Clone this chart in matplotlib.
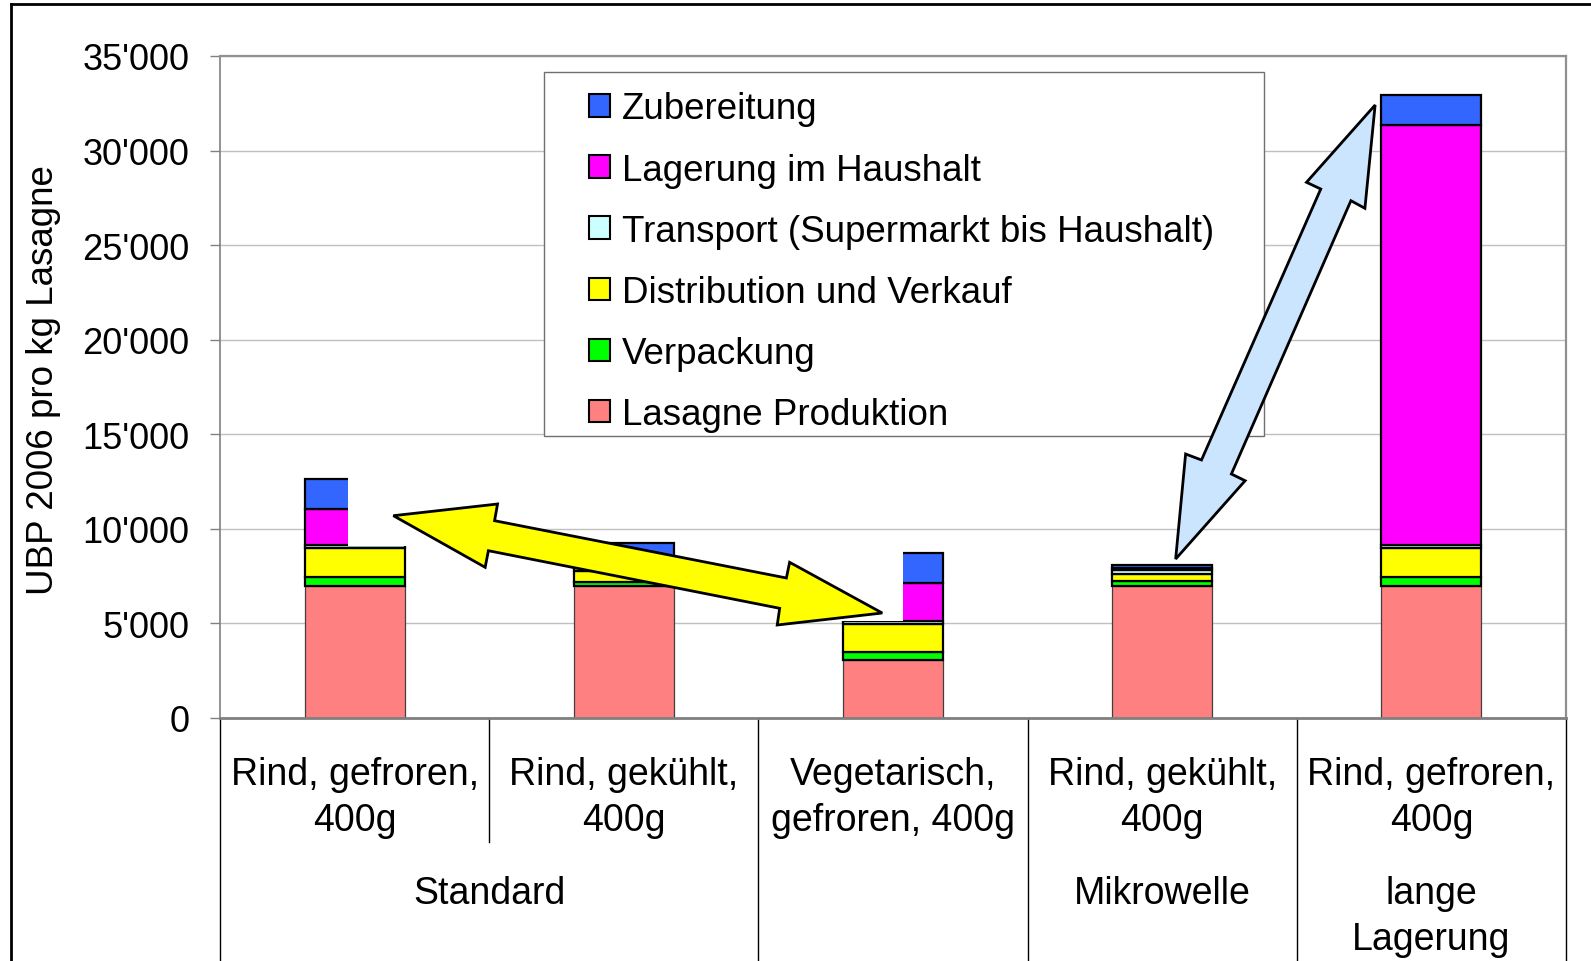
import matplotlib
matplotlib.use("Agg")
import matplotlib.pyplot as plt
from matplotlib.patches import Polygon, Rectangle, Patch
from matplotlib.lines import Line2D
from matplotlib.ticker import FuncFormatter
import numpy as np

plt.rcParams['font.family'] = ['Liberation Sans', 'DejaVu Sans']

# ---------------- data ----------------
categories = ["Rind, gefroren,\n400g", "Rind, gekühlt,\n400g", "Vegetarisch,\ngefroren, 400g",
              "Rind, gekühlt,\n400g", "Rind, gefroren,\n400g"]
group_labels = ["Standard", "", "Mikrowelle", "lange\nLagerung"]
group_centers = [0.5, 2, 3, 4]

series_names = ["Lasagne Produktion", "Verpackung", "Distribution und Verkauf",
                "Transport (Supermarkt bis Haushalt)", "Lagerung im Haushalt", "Zubereitung"]
produktion = [7000, 7000, 3050, 7000, 7000]
verpackung = [430, 200, 420, 220, 430]
distribution = [1540, 580, 1480, 400, 1540]
transport = [170, 170, 180, 180, 200]
lagerung = [1900, 150, 1990, 150, 22170]
zubereitung = [1590, 1150, 1600, 130, 1620]
series_values = [produktion, verpackung, distribution, transport, lagerung, zubereitung]
series_colors = ["#FF8080", "#00FF00", "#FFFF00", "#CCFFFF", "#FF00FF", "#3366FF"]

yticks = [0, 5000, 10000, 15000, 20000, 25000, 30000, 35000]

# annotation shapes (data coordinates)
yellow_arrow = [(0.144, 10696), (0.531, 11314), (0.520, 10431), (1.604, 7402), (1.616, 8232),
                (1.960, 5551), (1.570, 4917), (1.579, 5800), (0.497, 8845), (0.485, 7967)]
blue_arrow = [(3.791, 32409), (3.753, 26948), (3.701, 27350), (3.257, 12900), (3.308, 12546),
              (3.050, 8406), (3.087, 13958), (3.146, 13640), (3.589, 27968), (3.536, 28322)]
occluders = [((-0.024, 9080), 0.28, 4000), ((1.79, 5110), 0.249, 4000)]

# ---------------- figure ----------------
W, H = 1591, 962
fig = plt.figure(figsize=(W / 100, H / 100), dpi=100)
ax_l, ax_r, ax_t, ax_b = 220, 1566, 57, 719
ax = fig.add_axes([ax_l / W, 1 - ax_b / H, (ax_r - ax_l) / W, (ax_b - ax_t) / H])

x = np.arange(len(categories))
bw = 0.372
bottom = np.zeros(len(categories))
for i, (vals, col) in enumerate(zip(series_values, series_colors)):
    if i == 0:
        ax.bar(x, vals, bw, bottom=bottom, color=col, edgecolor="#404040", linewidth=0.9, zorder=2)
    else:
        ax.bar(x, vals, bw, bottom=bottom, color=col, edgecolor="black", linewidth=1.6, zorder=2)
    bottom += np.array(vals)

ax.set_xlim(-0.5, len(categories) - 0.5)
ax.set_ylim(0, 35000)
ax.set_yticks(yticks)
ax.yaxis.set_major_formatter(FuncFormatter(lambda v, p: f"{int(v):,}".replace(",", "'")))
ax.tick_params(axis='y', direction='out', length=7, width=1, color='#808080',
               labelsize=26, pad=15)
ax.set_xticks([])
ax.grid(axis='y', color='#C0C0C0', linewidth=1.0, zorder=0)
ax.set_axisbelow(True)
for s in ['top', 'right']:
    ax.spines[s].set_color('#909090')
    ax.spines[s].set_linewidth(1.6)
ax.spines['left'].set_color('#808080')
ax.spines['left'].set_linewidth(1.2)
ax.spines['bottom'].set_color('#808080')
ax.spines['bottom'].set_linewidth(2.0)

# occluding white areas (part of the arrow annotation)
for (xy, w, h) in occluders:
    ax.add_patch(Rectangle(xy, w, h, facecolor='white', edgecolor='none', zorder=2.5))

# legend
ax.add_patch(Rectangle((0.2407, 0.426), 0.5349, 0.5498, transform=ax.transAxes,
                       facecolor='white', edgecolor='#707070', linewidth=1.0, zorder=3))
handles = [Patch(facecolor=c, edgecolor='black', linewidth=1.5) for c in series_colors][::-1]
leg = ax.legend(handles, series_names[::-1], loc='upper left', bbox_to_anchor=(0.2741, 0.9464),
                bbox_transform=ax.transAxes, frameon=False, borderpad=0, borderaxespad=0,
                handlelength=0.57, handleheight=0.57, handletextpad=0.33, labelspacing=0.71,
                fontsize=26.5)
leg.set_zorder(4)

# arrows
ax.add_patch(Polygon(yellow_arrow, closed=True, facecolor='#FFFF00', edgecolor='black',
                     linewidth=2.0, joinstyle='miter', zorder=5))
ax.add_patch(Polygon(blue_arrow, closed=True, facecolor='#CCE5FF', edgecolor='black',
                     linewidth=2.0, joinstyle='miter', zorder=5))

# category table below the axis
def ay(py):
    return (ax_b - py) / (ax_b - ax_t)

tr = ax.get_xaxis_transform()
for i, lab in enumerate(categories):
    for j, line in enumerate(lab.split("\n")):
        ax.text(i, ay(775 + 46 * j), line, transform=tr, ha='center', va='center',
                fontsize=27, clip_on=False)
for gx, lab in zip(group_centers, group_labels):
    for j, line in enumerate(lab.split("\n")):
        ax.text(gx, ay(894 + 46 * j), line, transform=tr, ha='center', va='center',
                fontsize=27, clip_on=False)
for b in np.arange(-0.5, len(categories), 1.0):
    yend = ay(843) if abs(b - 0.5) < 1e-6 else ay(990)
    ax.plot([b, b], [0, yend], transform=tr, color='black', linewidth=1.0, clip_on=False, zorder=1)

# y label
fig.text(44 / W, 1 - 380 / H, "UBP 2006 pro kg Lasagne", rotation=90, ha='center', va='center',
         fontsize=26.5)

# outer frame
fig.add_artist(Line2D([11 / W, 11 / W], [1 - 5 / H, 0], transform=fig.transFigure,
                      color='black', linewidth=2.0))
fig.add_artist(Line2D([11 / W, 1], [1 - 5 / H, 1 - 5 / H], transform=fig.transFigure,
                      color='black', linewidth=2.0))

fig.savefig("out.png", dpi=100, facecolor='white')
